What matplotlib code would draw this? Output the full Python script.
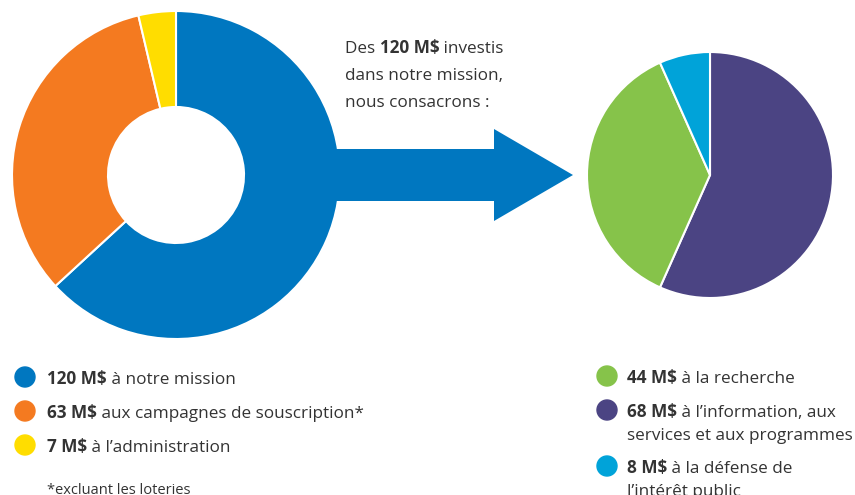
import matplotlib
matplotlib.use("Agg")
import matplotlib.pyplot as plt
from matplotlib.patches import Polygon, Circle

plt.rcParams['font.family'] = ['Open Sans', 'DejaVu Sans']

# données
left_values = [120, 63, 7]
left_colors = ['#0077C0', '#F47A20', '#FFDD00']
left_bold = ['120 M$', '63 M$', '7 M$']
left_labels = [' à notre mission', ' aux campagnes de souscription*', ' à l\u2019administration']

right_values = [68, 44, 8]
right_colors = ['#4B4483', '#86C34A', '#00A3D9']
right_bold = ['44 M$', '68 M$', '8 M$']
right_labels = [[' à la recherche'],
                [' à l\u2019information, aux', 'services et aux programmes'],
                [' à la défense de', 'l\u2019intérêt public']]
right_legend_colors = ['#86C34A', '#4B4483', '#00A3D9']

W, H = 855, 495
TXT = '#333333'
FS = 12.3


def Y(y):
    return H - y


fig = plt.figure(figsize=(W / 100, H / 100), dpi=100)
ax = fig.add_axes([0, 0, 1, 1])

# anneau gauche
ax.pie(left_values, colors=left_colors, startangle=90, counterclock=False,
       center=(176, Y(175)), radius=164,
       wedgeprops=dict(width=96, edgecolor='white', linewidth=1.5, zorder=2))

# camembert droit
ax.pie(right_values, colors=right_colors, startangle=90, counterclock=False,
       center=(710, Y(175)), radius=123,
       wedgeprops=dict(edgecolor='white', linewidth=1.5, zorder=2))

# flèche (part de l'anneau bleu)
arrow = Polygon([(320, Y(149)), (494, Y(149)), (494, Y(129)), (573, Y(175)),
                 (494, Y(221)), (494, Y(201)), (320, Y(201))],
                closed=True, facecolor='#0077C0', edgecolor='none', zorder=3)
ax.add_patch(arrow)

ax.set_xlim(0, W)
ax.set_ylim(0, H)
ax.set_aspect('equal')
ax.axis('off')


def mixed(x, y, bold, rest):
    t = ax.text(x, y, bold, fontsize=FS, fontweight='bold', color=TXT,
                va='bottom', ha='left')
    ax.annotate(rest, xy=(1, 0), xycoords=t, fontsize=FS, color=TXT,
                va='bottom', ha='left')
    return t


# texte du haut
t0 = ax.text(345, Y(57), 'Des ', fontsize=FS, color=TXT, va='bottom')
t1 = ax.annotate('120 M$', xy=(1, 0), xycoords=t0, fontsize=FS,
                 fontweight='bold', color=TXT, va='bottom')
ax.annotate(' investis', xy=(1, 0), xycoords=t1, fontsize=FS, color=TXT,
            va='bottom')
ax.text(345, Y(84), 'dans notre mission,', fontsize=FS, color=TXT, va='bottom')
ax.text(345, Y(111), 'nous consacrons :', fontsize=FS, color=TXT, va='bottom')

# légende gauche
for i, (c, b, l) in enumerate(zip(left_colors, left_bold, left_labels)):
    yy = 377 + i * 34
    ax.add_patch(Circle((25, Y(yy)), 10, color=c))
    mixed(47, Y(yy + 11), b, l)
ax.text(47, Y(498), '*excluant les loteries', fontsize=10.5, color=TXT,
        va='bottom')

# légende droite
right_y = [376, 410, 466]
for c, b, lines, yy in zip(right_legend_colors, right_bold, right_labels, right_y):
    ax.add_patch(Circle((607, Y(yy)), 10, color=c))
    mixed(627, Y(yy + 11), b, lines[0])
    for k, line in enumerate(lines[1:], start=1):
        ax.text(627, Y(yy + 11 + 23 * k), line, fontsize=FS, color=TXT,
                va='bottom')

fig.savefig('out.png', dpi=100)
